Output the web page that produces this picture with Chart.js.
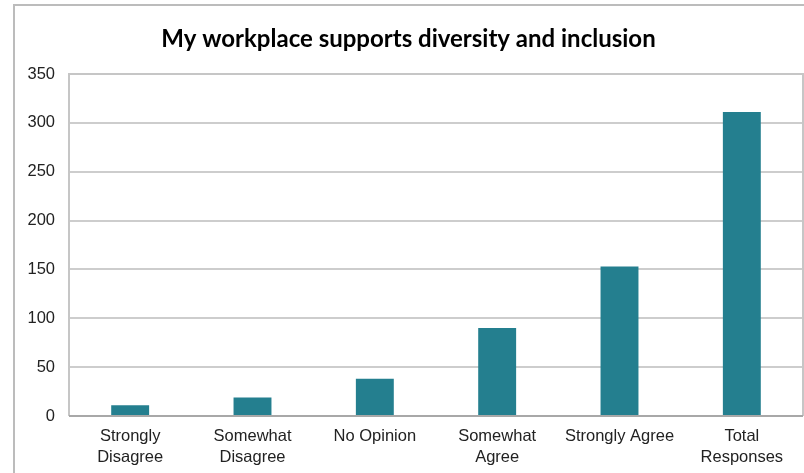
<!DOCTYPE html>
<html>
<head>
<meta charset="utf-8">
<script src="https://cdn.jsdelivr.net/npm/chart.js@4"></script>
<style>
  html, body { margin: 0; padding: 0; background: #fff; }
  #wrap { width: 804px; height: 473px; }
</style>
</head>
<body>
<div id="wrap"><canvas id="surveyChart" width="804" height="473"></canvas></div>
<script>
// Respostas da pesquisa
const categories = [['Strongly', 'Disagree'], ['Somewhat', 'Disagree'], 'No Opinion', ['Somewhat', 'Agree'], 'Strongly Agree', ['Total', 'Responses']];
const responses = [11, 19, 38, 90, 153, 311];
const yTicks = [0, 50, 100, 150, 200, 250, 300, 350];

// moldura externa e caixa da área do gráfico
const frames = {
  id: 'frames',
  beforeDraw(chart) {
    const c = chart.ctx;
    c.save();
    c.strokeStyle = '#bcbcbc';
    c.lineWidth = 2;
    c.strokeRect(14, 5, 820, 500);
    c.restore();
  },
  afterDatasetsDraw(chart) {
    const { left, top, right, bottom } = chart.chartArea;
    const c = chart.ctx;
    c.save();
    c.strokeStyle = '#c6c6c6';
    c.lineWidth = 2;
    c.beginPath();
    c.moveTo(left, bottom);
    c.lineTo(left, top);
    c.lineTo(right, top);
    c.lineTo(right, bottom);
    c.stroke();
    c.strokeStyle = '#a8a8a8';
    c.beginPath();
    c.moveTo(left, bottom);
    c.lineTo(right, bottom);
    c.stroke();
    c.restore();
  }
};

const ctx = document.getElementById('surveyChart').getContext('2d');
const chart = new Chart(ctx, {
  type: 'bar',
  data: {
    labels: categories,
    datasets: [{
      data: responses,
      backgroundColor: '#247F8F',
      barPercentage: 0.31,
      categoryPercentage: 1
    }]
  },
  options: {
    responsive: false,
    animation: false,
    layout: { padding: { left: 14, right: 1, top: 0, bottom: 0 } },
    plugins: {
      legend: { display: false },
      tooltip: { enabled: false },
      title: {
        display: true,
        text: 'My workplace supports diversity and inclusion',
        color: '#000',
        font: { family: 'Lato', size: 24, weight: 'bold', lineHeight: 1.2 },
        padding: { top: 25, bottom: 20.2 }
      }
    },
    scales: {
      x: {
        grid: { display: false, drawTicks: false },
        border: { display: false },
        ticks: {
          color: '#222',
          padding: 10,
          maxRotation: 0,
          autoSkip: false,
          font: { family: 'Liberation Sans', size: 16.5, lineHeight: 1.27 }
        },
        afterFit(scale) { scale.height = 57; }
      },
      y: {
        min: 0,
        max: 350,
        afterBuildTicks(scale) { scale.ticks = yTicks.map(v => ({ value: v })); },
        grid: { color: '#cdcdcd', lineWidth: 2, drawTicks: false },
        border: { display: false },
        ticks: {
          color: '#222',
          padding: 14,
          font: { family: 'Liberation Sans', size: 16.5 }
        },
        afterFit(scale) { scale.width = 55; }
      }
    }
  },
  plugins: [frames]
});
</script>
</body>
</html>
